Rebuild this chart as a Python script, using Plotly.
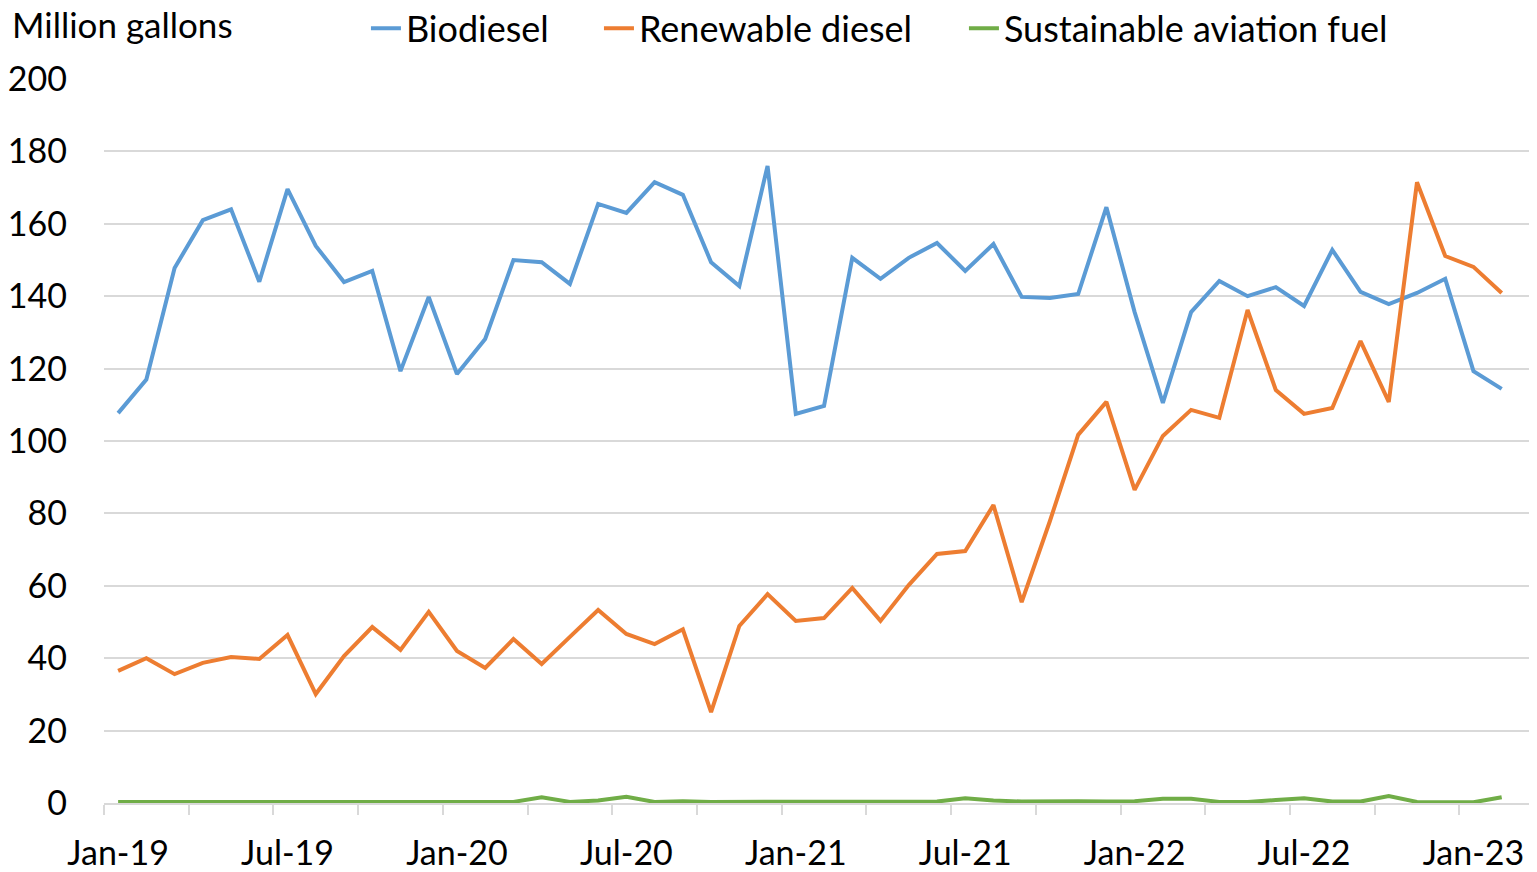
import plotly.graph_objects as go

months = ["Jan","Feb","Mar","Apr","May","Jun","Jul","Aug","Sep","Oct","Nov","Dec"]
dates = [f"{m}-{y}" for y in ["19","20","21","22"] for m in months] + ["Jan-23","Feb-23"]

biodiesel = [107.7,117.0,147.8,161.0,164.0,144.0,169.6,153.9,143.9,147.0,119.3,139.8,
             118.5,128.2,150.0,149.4,143.4,165.5,163.0,171.5,168.0,149.4,142.8,176.0,
             107.5,109.7,150.6,144.8,150.6,154.7,147.0,154.4,139.8,139.5,140.6,164.6,
             135.6,110.5,135.6,144.2,140.0,142.5,137.3,152.8,141.2,137.8,140.9,144.8,
             119.3,114.4]
renewable_diesel = [36.5,40.0,35.6,38.7,40.3,39.8,46.4,30.1,40.6,48.6,42.3,52.8,
                    42.0,37.3,45.3,38.4,45.9,53.3,46.7,43.9,48.0,25.1,48.9,57.7,
                    50.3,51.1,59.4,50.3,60.2,68.8,69.6,82.3,55.5,77.9,101.7,110.8,
                    86.5,101.4,108.6,106.4,136.2,114.1,107.5,109.1,127.6,110.8,171.5,151.1,
                    148.1,140.9]
saf = [0.3,0.3,0.3,0.3,0.3,0.3,0.3,0.3,0.3,0.3,0.2,0.2,
       0.2,0.2,0.3,1.6,0.3,0.7,1.7,0.3,0.5,0.3,0.3,0.3,
       0.3,0.3,0.3,0.3,0.3,0.4,1.3,0.7,0.4,0.5,0.5,0.4,
       0.5,1.2,1.2,0.3,0.3,0.8,1.3,0.4,0.4,1.9,0.3,0.2,
       0.2,1.6]

label_idx = list(range(0, len(dates), 6))
label_text = [dates[i] for i in label_idx]
y_ticks = list(range(0, 201, 20))

x = list(range(len(dates)))
FONT = "Lato"
FS = 34
LFS = 36

fig = go.Figure()
series = [("Biodiesel", biodiesel, "#5B9BD5", "legend"),
          ("Renewable diesel", renewable_diesel, "#ED7D31", "legend2"),
          ("Sustainable aviation fuel", saf, "#70AD47", "legend3")]
for name, vals, col, lg in series:
    fig.add_trace(go.Scatter(x=x, y=vals, mode="lines", name=name, legend=lg,
                             line=dict(color=col, width=4),
                             customdata=[dates[i] for i in x],
                             hovertemplate="%{customdata}: %{y}<extra>" + name + "</extra>"))

def leg(xpos):
    return dict(orientation="h", x=xpos, xref="paper", y=1.07, yanchor="middle",
                xanchor="left", yref="paper", bgcolor="rgba(0,0,0,0)",
                font=dict(family=FONT, size=LFS, color="#000000"), itemwidth=30)

fig.update_layout(
    width=1529, height=864,
    margin=dict(l=96, r=0, t=71, b=69, autoexpand=False),
    plot_bgcolor="white", paper_bgcolor="white",
    font=dict(family=FONT, size=FS, color="#000000"),
    showlegend=True,
    legend=leg(0.1828), legend2=leg(0.3454), legend3=leg(0.6001),
    annotations=[dict(text="Million gallons", xref="paper", yref="paper",
                      x=-0.0656, y=1.076, xanchor="left", yanchor="middle",
                      showarrow=False, font=dict(family=FONT, size=35, color="#000000"))],
    xaxis=dict(range=[-0.5, 50.25], tickmode="array", tickvals=label_idx, ticktext=label_text,
               ticks="", showgrid=False, zeroline=False, showline=True,
               linecolor="#d9d9d9", linewidth=1.5, ticklabelstandoff=19,
               tickfont=dict(family=FONT, size=FS, color="#000000"),
               minor=dict(tickmode="array", tickvals=[i - 0.5 for i in range(0, len(dates) + 1, 3)],
                          ticks="outside", ticklen=10, tickcolor="#d9d9d9", tickwidth=1.5, showgrid=False)),
    yaxis=dict(range=[0, 200], tickmode="array", tickvals=y_ticks,
               showgrid=True, gridcolor="#d9d9d9", gridwidth=1.5, zeroline=False,
               showline=False, ticks="", ticklabelstandoff=36,
               tickfont=dict(family=FONT, size=FS, color="#000000")),
)
fig.write_html("out.html")
